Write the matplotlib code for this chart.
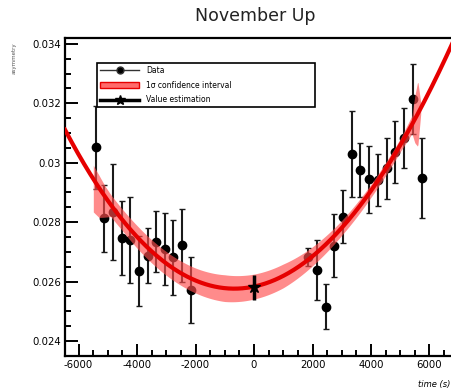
import numpy as np
import matplotlib
matplotlib.use("Agg")
import matplotlib.pyplot as plt
from matplotlib.lines import Line2D
from matplotlib.patches import Patch
from matplotlib.ticker import MultipleLocator

# ---- data ----
t_data = [-5402, -5128, -4810, -4524, -4228, -3932, -3634, -3350, -3053, -2759, -2451, -2154,
          1857, 2143, 2462, 2746, 3032, 3340, 3624, 3932, 4229, 4537, 4821, 5128, 5425, 5733]
y_data = [0.03052, 0.02813, 0.02835, 0.02746, 0.02740, 0.02637, 0.02687, 0.02734, 0.02709, 0.02682, 0.02722, 0.02572,
          0.02684, 0.02639, 0.02516, 0.02721, 0.02819, 0.03029, 0.02976, 0.02945, 0.02942, 0.02981, 0.03036, 0.03082, 0.03215, 0.02949]
y_err = [0.00139, 0.00112, 0.00161, 0.00125, 0.00145, 0.00118, 0.00092, 0.00103, 0.00121, 0.00127, 0.00123, 0.00111,
         0.00030, 0.00101, 0.00076, 0.00105, 0.00089, 0.00144, 0.00090, 0.00113, 0.00088, 0.00104, 0.00103, 0.00101, 0.00118, 0.00135]

est_t = [0]
est_y = [0.02581]
est_err = [0.00042]

# fit curve samples
fit_t = [-6462, -5494, -4352, -3897, -3326, -2759, -2188, -1617, -1050, -479, 34, 889, 1460, 2027, 2745, 3932, 5128, 6588]
fit_y = [0.03099, 0.02953, 0.02785, 0.02755, 0.02695, 0.02650, 0.02611, 0.02589, 0.02577, 0.02572, 0.02578,
         0.02600, 0.02633, 0.02684, 0.02751, 0.02932, 0.03088, 0.03346]

# confidence band half widths (above / below the fit)
band_t = [-5494, -5300, -5100, -4900, -4500, -4000, -3000, -2000, -1000, 0, 1000, 2000, 3000, 4000, 5000, 5400, 5500, 5600, 5700]
band_hi = [0.00046, 0.00042, 0.00036, 0.00034, 0.00036, 0.00038, 0.00040, 0.00042, 0.00045, 0.00042, 0.00040, 0.00032,
           0.00025, 0.00022, 0.00022, 0.00030, 0.00080, 0.00110, 0.00020]
band_lo = [0.00111, 0.00100, 0.00070, 0.00040, 0.00036, 0.00038, 0.00040, 0.00042, 0.00045, 0.00042, 0.00040, 0.00032,
           0.00025, 0.00022, 0.00022, 0.00030, 0.00080, 0.00110, 0.00020]

title = "November Up"
xlabel = "time (s)"
ylabel = "asymmetry"

# ---- figure ----
W, H = 451, 389
fig = plt.figure(figsize=(W / 100, H / 100), dpi=100)
ax = fig.add_axes([65 / W, 1 - 356 / H, (460 - 65) / W, (356 - 38) / H])

xlim = (-6462, 7043)
ylim = (0.023495, 0.03420)
ax.set_xlim(*xlim)
ax.set_ylim(*ylim)

# data points
ax.errorbar(t_data, y_data, yerr=y_err, fmt='o', color='black', ecolor='#1a1a1a',
            markersize=6, elinewidth=1.5, capsize=2.5, capthick=1.0, zorder=2)

# fit and confidence band
coef = np.polyfit(fit_t, fit_y, 3)
bt = np.linspace(band_t[0], band_t[-1], 600)
bc = np.polyval(coef, bt)
ax.fill_between(bt, bc - np.interp(bt, band_t, band_lo), bc + np.interp(bt, band_t, band_hi),
                color='#ff4d4d', alpha=0.65, linewidth=0, zorder=3)
ft = np.linspace(xlim[0], xlim[1], 600)
ax.plot(ft, np.polyval(coef, ft), color='#e60000', linewidth=3.0, zorder=4)

# value estimation
ax.errorbar(est_t, est_y, yerr=est_err, fmt='*', color='black', markersize=9,
            elinewidth=2.5, capsize=0, zorder=5)

# axes styling (ROOT-like)
for s in ['top', 'bottom', 'left', 'right']:
    ax.spines[s].set_linewidth(1.6)
ax.xaxis.set_major_locator(MultipleLocator(2000))
ax.xaxis.set_minor_locator(MultipleLocator(500))
ax.yaxis.set_major_locator(MultipleLocator(0.002))
ax.yaxis.set_minor_locator(MultipleLocator(0.0005))
ax.tick_params(which='both', direction='in', top=False, right=False, width=1.4)
ax.tick_params(which='major', length=9, labelsize=7.3, pad=3)
ax.tick_params(which='minor', length=4.5)
ax.set_xticks(np.arange(-6000, 6001, 2000))
ax.set_xticklabels([str(v) for v in range(-6000, 6001, 2000)])
ax.set_yticks([0.024, 0.026, 0.028, 0.03, 0.032, 0.034])
ax.set_yticklabels(['0.024', '0.026', '0.028', '0.03', '0.032', '0.034'])

fig.text(255 / W, 1 - 16 / H, title, ha='center', va='center', fontsize=12.5, color='#222222')
fig.text(450 / W, 1 - 384 / H, xlabel, ha='right', va='center', fontsize=6, style='italic')
fig.text(14 / W, 1 - 42 / H, ylabel, ha='center', va='top', rotation=90, fontsize=4, color='#555555')

handles = [
    Line2D([], [], color='#333333', marker='o', markersize=5, markerfacecolor='black', linewidth=1.0),
    Patch(facecolor='#ff6b6b', edgecolor='#e60000', linewidth=1.0),
    Line2D([], [], color='black', marker='*', markersize=7, linewidth=2.5),
]
labels = ["Data", "1σ confidence interval", "Value estimation"]
leg = ax.legend(handles, labels, loc='upper left', bbox_to_anchor=(0.081, 0.921, 0.552, 0.0),
                mode='expand', borderaxespad=0, fontsize=5.5, frameon=True, fancybox=False,
                edgecolor='black', framealpha=1, handlelength=5.2, handletextpad=0.9,
                labelspacing=0.75, borderpad=0.35)
leg.get_frame().set_linewidth(1.2)
leg.set_zorder(10)

fig.savefig("out.png", dpi=100)
